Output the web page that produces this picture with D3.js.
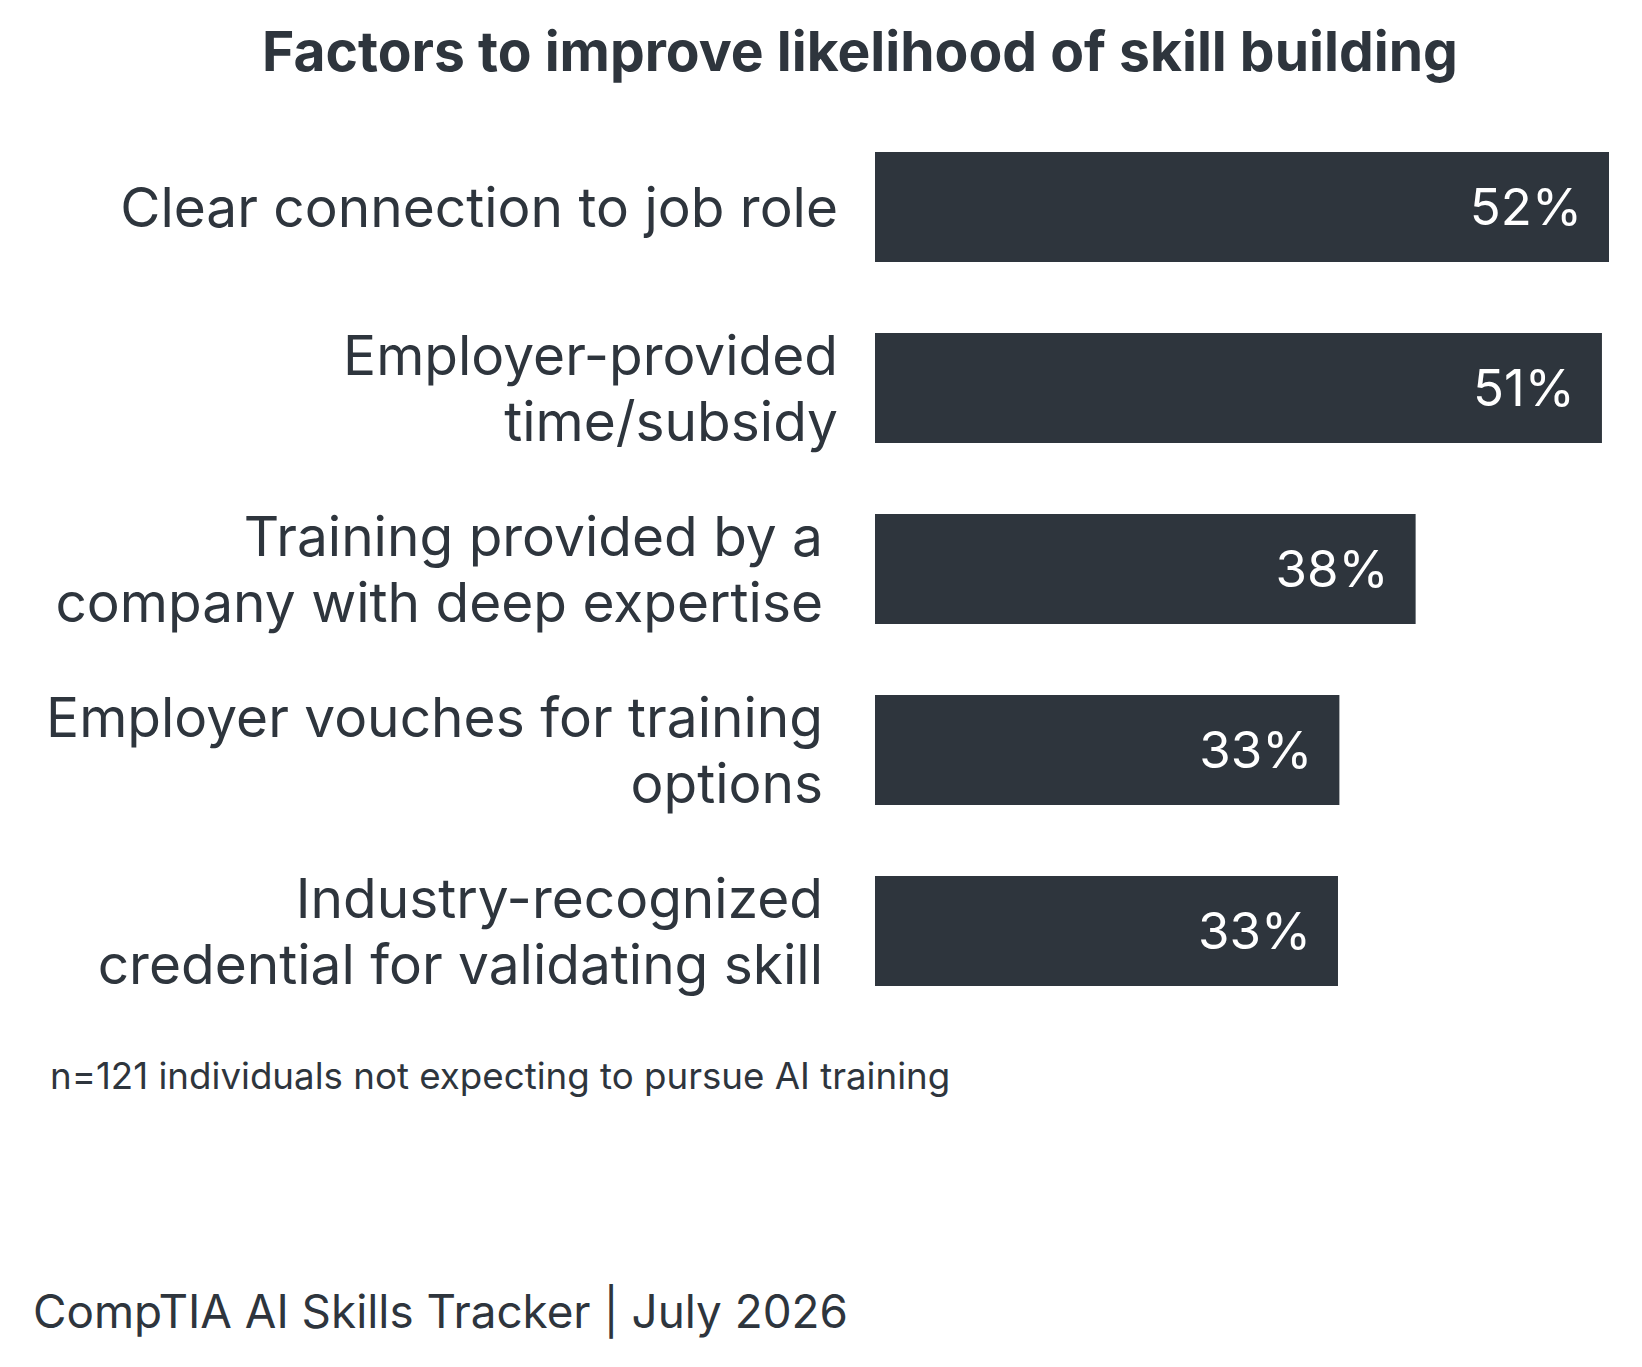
<!DOCTYPE html>
<html>
<head>
<meta charset="utf-8">
<script src="https://cdn.jsdelivr.net/npm/d3@7"></script>
<style>
  body { margin: 0; background: #fff; }
  text { font-family: Inter, "Noto Sans", sans-serif; }
</style>
</head>
<body>
<svg id="chart" width="1642" height="1367"></svg>
<script>
// chart data
const categories = [
    "Clear connection to job role",
    "Employer-provided\ntime/subsidy",
    "Training provided by a\ncompany with deep expertise",
    "Employer vouches for training\noptions",
    "Industry-recognized\ncredential for validating skill"
];
const values = [52.0, 51.5, 38.3, 32.9, 32.8];
const valueLabels = ["52%", "51%", "38%", "33%", "33%"];

const title = "Factors to improve likelihood of skill building";
const note = "n=121 individuals not expecting to pursue AI training";
const source = "CompTIA AI Skills Tracker | July 2026";

const ink = "#2e353d";

const svg = d3.select("#chart");

const x = d3.scaleLinear()
    .domain([0, 52])
    .range([875, 1609]);

const y = d3.scaleBand()
    .domain(categories)
    .range([152 - 71 * 0.5, 986 + 71 * 0.5])
    .paddingInner(71 / 181)
    .paddingOuter(0.5 * (71 / 181));

svg.append("text")
    .attr("x", 860)
    .attr("y", 71)
    .attr("text-anchor", "middle")
    .attr("font-size", 55.2)
    .attr("font-weight", 700)
    .attr("fill", ink)
    .text(title);

svg.selectAll("rect.bar")
    .data(values)
    .enter()
    .append("rect")
    .attr("class", "bar")
    .attr("x", x(0))
    .attr("y", (d, i) => y(categories[i]))
    .attr("width", d => x(d) - x(0))
    .attr("height", y.bandwidth())
    .attr("fill", ink);

svg.selectAll("text.value")
    .data(values)
    .enter()
    .append("text")
    .attr("class", "value")
    .attr("x", d => x(d) - 27)
    .attr("y", (d, i) => y(categories[i]) + y.bandwidth() / 2)
    .attr("dy", "0.36em")
    .attr("text-anchor", "end")
    .attr("font-size", 51)
    .attr("fill", "#fff")
    .text((d, i) => valueLabels[i]);

// category labels, first two sit a bit further right
const labels = svg.selectAll("text.cat")
    .data(categories)
    .enter()
    .append("text")
    .attr("class", "cat")
    .attr("text-anchor", "end")
    .attr("font-size", 55)
    .attr("fill", ink);

labels.each(function(d, i) {
    const lines = d.split("\n");
    const cy = y(d) + y.bandwidth() / 2;
    const lineH = 66;
    const right = i < 2 ? 838 : 823;
    lines.forEach((line, k) => {
        d3.select(this).append("tspan")
            .attr("x", right)
            .attr("y", cy + (k - (lines.length - 1) / 2) * lineH)
            .attr("dy", "0.36em")
            .text(line);
    });
});

svg.append("text")
    .attr("x", 50)
    .attr("y", 1089)
    .attr("font-size", 36.7)
    .attr("fill", ink)
    .text(note);

svg.append("text")
    .attr("x", 33)
    .attr("y", 1328)
    .attr("font-size", 45.8)
    .attr("fill", ink)
    .text(source);
</script>
</body>
</html>
